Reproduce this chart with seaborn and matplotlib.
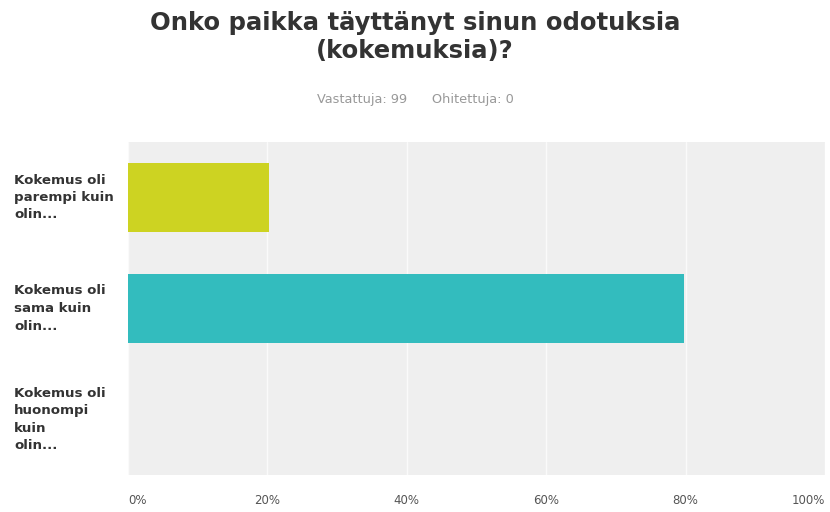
import matplotlib
matplotlib.use("Agg")
import matplotlib.pyplot as plt
import matplotlib.transforms as mtransforms
import seaborn as sns
import pandas as pd

categories = ["Kokemus oli\nparempi kuin\nolin...",
              "Kokemus oli\nsama kuin\nolin...",
              "Kokemus oli\nhuonompi\nkuin\nolin..."]
shares = [20.2, 79.8, 0.0]
colors = ["#cdd322", "#33bcbe", "#999999"]
tick_values = [0, 20, 40, 60, 80, 100]
tick_labels = ["0%", "20%", "40%", "60%", "80%", "100%"]

df = pd.DataFrame({"vastaus": categories, "osuus": shares})

sns.set_theme(style="white")
plt.rcParams["font.family"] = ["DejaVu Sans"]

fig = plt.figure(figsize=(8.3, 5.12), dpi=100)
ax = fig.add_axes([128 / 830, 1 - 475 / 512, (825 - 128) / 830, (475 - 142) / 512])
ax.set_facecolor("#efefef")

sns.barplot(data=df, y="vastaus", x="osuus", hue="vastaus", palette=colors,
            legend=False, width=0.625, ax=ax, orient="h", saturation=1, linewidth=0)

ax.set_xlim(0, 100)
ax.set_xticks(tick_values)
ax.set_xticklabels(tick_labels, color="#555555", fontsize=8.5)
ax.xaxis.grid(True, color="#fafafa", linewidth=1.0)
ax.set_axisbelow(True)
ax.tick_params(axis="x", length=0, pad=14)
ax.tick_params(axis="y", length=0)
for s in ax.spines.values():
    s.set_visible(False)
xt = ax.get_xticklabels()
xt[0].set_ha("left")
xt[-1].set_ha("right")

ax.set_yticks(range(len(categories)))
ax.set_yticklabels([])
label_tf = mtransforms.blended_transform_factory(fig.transFigure, ax.transData)
for i, lab in enumerate(categories):
    ax.text(14 / 830, i, lab, transform=label_tf, ha="left", va="center",
            fontsize=9.6, fontweight="bold", color="#333333", linespacing=1.45)

ax.set_xlabel("")
ax.set_ylabel("")

fig.text(0.5, 1 - 37 / 512, "Onko paikka täyttänyt sinun odotuksia\n(kokemuksia)?",
         ha="center", va="center", fontsize=17.5, fontweight="bold", color="#333333",
         linespacing=1.2)
fig.text(0.5, 1 - 100 / 512, "Vastattuja: 99      Ohitettuja: 0", ha="center", va="center",
         fontsize=9.3, color="#999999")

fig.savefig("out.png", dpi=100, facecolor="white")
